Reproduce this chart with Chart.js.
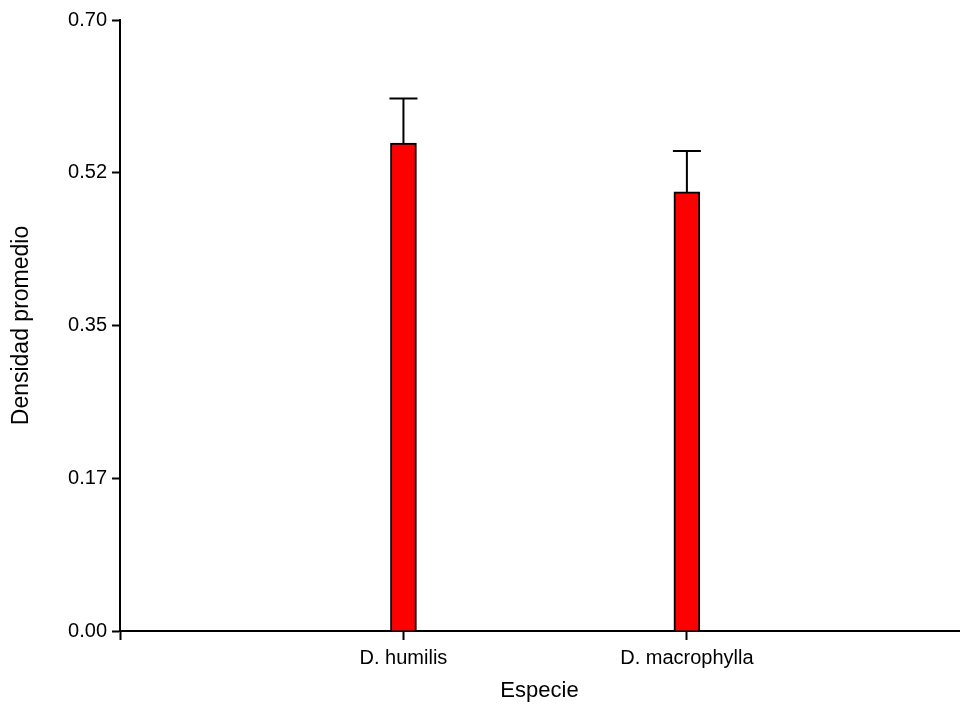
<!DOCTYPE html>
<html>
<head>
<meta charset="utf-8">
<script src="https://cdn.jsdelivr.net/npm/chart.js@4"></script>
<style>
	html, body { margin: 0; padding: 0; background: #fff; }
	#wrap { width: 965px; height: 704px; }
</style>
</head>
<body>
<div id="wrap"><canvas id="grafica"></canvas></div>
<script>
// Datos
const especies = ['D. humilis', 'D. macrophylla'];
const medias = [0.559, 0.503];
const errores = [0.051, 0.047];
const etiquetasY = ['0.00', '0.17', '0.35', '0.52', '0.70'];

// Barras de error (se dibujan antes de las barras para que la parte inferior quede oculta)
const barrasError = {
	id: 'barrasError',
	beforeDatasetsDraw(chart) {
		const ctx = chart.ctx;
		const x = chart.scales.x;
		const y = chart.scales.y;
		ctx.save();
		ctx.strokeStyle = '#000';
		ctx.lineWidth = 2;
		medias.forEach(function (m, i) {
			const px = x.getPixelForValue(i + 1);
			const arriba = y.getPixelForValue(m + errores[i]);
			const base = y.getPixelForValue(m);
			ctx.beginPath();
			ctx.moveTo(px, base);
			ctx.lineTo(px, arriba);
			ctx.moveTo(px - 14, arriba);
			ctx.lineTo(px + 14, arriba);
			ctx.stroke();
		});
		ctx.restore();
	}
};

Chart.defaults.font.family = '"Liberation Sans", Arial, sans-serif';
Chart.defaults.font.size = 20;
Chart.defaults.color = '#000';

new Chart(document.getElementById('grafica'), {
	type: 'bar',
	data: {
		datasets: [{
			data: medias.map((m, i) => ({ x: i + 1, y: m })),
			backgroundColor: '#ff0000',
			borderColor: '#000',
			borderWidth: 2,
			borderSkipped: 'bottom',
			barThickness: 26
		}]
	},
	options: {
		responsive: true,
		maintainAspectRatio: false,
		animation: false,
		layout: { padding: { top: 20, right: 5, left: 0, bottom: 0 } },
		plugins: {
			legend: { display: false },
			tooltip: { enabled: false }
		},
		scales: {
			x: {
				type: 'linear',
				min: 0,
				max: 2.96,
				offset: false,
				border: { color: '#000', width: 2 },
				grid: {
					offset: false,
					drawOnChartArea: false,
					tickLength: 9,
					tickWidth: 2,
					tickColor: function (c) {
						const v = c.tick ? c.tick.value : 0;
						return Number.isInteger(v) && v <= especies.length ? '#000' : 'rgba(0,0,0,0)';
					}
				},
				ticks: {
					stepSize: 1,
					padding: 6,
					maxRotation: 0,
					autoSkip: false,
					callback: function (v) { return especies[v - 1] || ''; }
				},
				title: { display: true, text: 'Especie', font: { size: 22 }, padding: { top: 4, bottom: 0 } },
				afterFit: function (s) { s.height = 73; }
			},
			y: {
				min: 0,
				max: 0.70,
				border: { color: '#000', width: 2 },
				grid: { drawOnChartArea: false, tickLength: 8, tickWidth: 2, tickColor: '#000' },
				ticks: {
					stepSize: 0.175,
					padding: 5,
					callback: function (v, i) { return etiquetasY[i]; }
				},
				title: { display: true, text: 'Densidad promedio', font: { size: 23 }, padding: { top: 8, bottom: 6 } },
				afterFit: function (s) { s.width = 120; }
			}
		}
	},
	plugins: [barrasError]
});
</script>
</body>
</html>
